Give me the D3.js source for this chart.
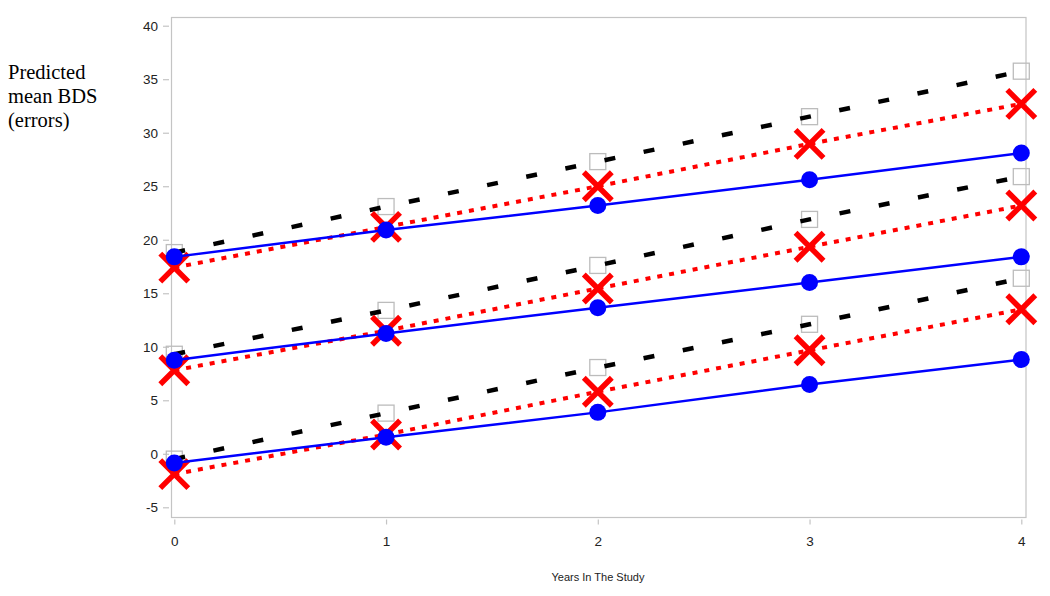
<!DOCTYPE html>
<html>
<head>
<meta charset="utf-8">
<script src="https://cdn.jsdelivr.net/npm/d3@7"></script>
<style>
  body { margin: 0; background: #fff; }
  svg { display: block; }
</style>
</head>
<body>
<svg id="chart" width="1050" height="596"></svg>
<script>
// years on the x axis
var years = [0, 1, 2, 3, 4];
var yTicks = [-5, 0, 5, 10, 15, 20, 25, 30, 35, 40];

// blue solid (filled dots), three groups
var blueHigh = [18.4, 20.9, 23.2, 25.6, 28.1];
var blueMid = [8.75, 11.25, 13.65, 16.0, 18.4];
var blueLow = [-0.85, 1.55, 3.87, 6.47, 8.8];

// black dashed (open squares)
var blackHigh = [18.8, 23.1, 27.3, 31.5, 35.75];
var blackMid = [9.3, 13.4, 17.6, 21.9, 25.9];
var blackLow = [-0.5, 3.8, 8.06, 12.1, 16.4];

// red dotted (crosses)
var redHigh = [17.4, 21.2, 25.0, 28.96, 32.7];
var redMid = [7.8, 11.5, 15.45, 19.35, 23.2];
var redLow = [-1.9, 1.8, 5.8, 9.67, 13.5];

var svg = d3.select('#chart');

var x = d3.scaleLinear().domain([0, 4]).range([174.3, 1021.3]);
var y = d3.scaleLinear().domain([-5, 40]).range([507.3, 25.7]);

// frame
svg.append('rect')
  .attr('x', 171.5).attr('y', 17.5)
  .attr('width', 1026 - 171.5).attr('height', 517.5 - 17.5)
  .attr('fill', 'none')
  .attr('stroke', '#c4c4c4')
  .attr('stroke-width', 1.2);

// plain hyphen for negatives, like the original
var fmt = function(d) { return String(d); };

// y axis
var yAxis = svg.append('g')
  .attr('transform', 'translate(169,0)')
  .call(d3.axisLeft(y).tickValues(yTicks).tickFormat(fmt).tickSize(6).tickPadding(5));
yAxis.select('.domain').remove();

// x axis
var xAxis = svg.append('g')
  .attr('transform', 'translate(0,519.5)')
  .call(d3.axisBottom(x).tickValues(years).tickFormat(fmt).tickSize(5).tickPadding(12));
xAxis.select('.domain').remove();

svg.selectAll('.tick line').attr('stroke', '#c4c4c4').attr('stroke-width', 1.2);
svg.selectAll('.tick text')
  .attr('fill', '#222')
  .style('font-family', 'Arial, "Liberation Sans", sans-serif')
  .style('font-size', '13.5px');

// axis titles
svg.append('text')
  .attr('x', 598).attr('y', 581)
  .attr('text-anchor', 'middle')
  .style('font-family', 'Arial, "Liberation Sans", sans-serif')
  .style('font-size', '11px')
  .attr('fill', '#222')
  .text('Years In The Study');

var ylab = svg.append('text')
  .style('font-family', '"Times New Roman", "Liberation Serif", serif')
  .style('font-size', '20.5px')
  .attr('fill', '#000');
['Predicted', 'mean BDS', '(errors)'].forEach(function(t, i) {
  ylab.append('tspan').attr('x', 8).attr('y', 79 + i * 24).text(t);
});

var line = d3.line()
  .x(function(d, i) { return x(years[i]); })
  .y(function(d) { return y(d); });

function pts(arr) {
  return arr.map(function(v, i) { return { x: years[i], v: v }; });
}

var plot = svg.append('g');

// black dashed + squares
[blackHigh, blackMid, blackLow].forEach(function(s) {
  plot.append('g').selectAll('rect')
    .data(pts(s))
    .enter()
    .append('rect')
    .attr('x', function(d) { return x(d.x) - 8; })
    .attr('y', function(d) { return y(d.v) - 8; })
    .attr('width', 16).attr('height', 16)
    .attr('fill', 'none')
    .attr('stroke', '#bcbcbc')
    .attr('stroke-width', 1.3);
  plot.append('path')
    .datum(s)
    .attr('d', line)
    .attr('fill', 'none')
    .attr('stroke', '#000')
    .attr('stroke-width', 4.5)
    .attr('stroke-dasharray', '11 29');
});

// red dotted + crosses
[redHigh, redMid, redLow].forEach(function(s) {
  plot.append('path')
    .datum(s)
    .attr('d', line)
    .attr('fill', 'none')
    .attr('stroke', '#ff0000')
    .attr('stroke-width', 4)
    .attr('stroke-dasharray', '5 7');
  plot.append('g').selectAll('path')
    .data(pts(s))
    .enter()
    .append('path')
    .attr('d', function(d) {
      var cx = x(d.x), cy = y(d.v), r = 14;
      return 'M' + (cx - r) + ',' + (cy - r) + 'L' + (cx + r) + ',' + (cy + r) +
        'M' + (cx - r) + ',' + (cy + r) + 'L' + (cx + r) + ',' + (cy - r);
    })
    .attr('stroke', '#ff0000')
    .attr('stroke-width', 5.5)
    .attr('fill', 'none');
});

// blue solid + dots
[blueHigh, blueMid, blueLow].forEach(function(s) {
  plot.append('path')
    .datum(s)
    .attr('d', line)
    .attr('fill', 'none')
    .attr('stroke', '#0000ff')
    .attr('stroke-width', 2.5);
  plot.append('g').selectAll('circle')
    .data(pts(s))
    .enter()
    .append('circle')
    .attr('cx', function(d) { return x(d.x); })
    .attr('cy', function(d) { return y(d.v); })
    .attr('r', 8.5)
    .attr('fill', '#0000ff');
});
</script>
</body>
</html>
